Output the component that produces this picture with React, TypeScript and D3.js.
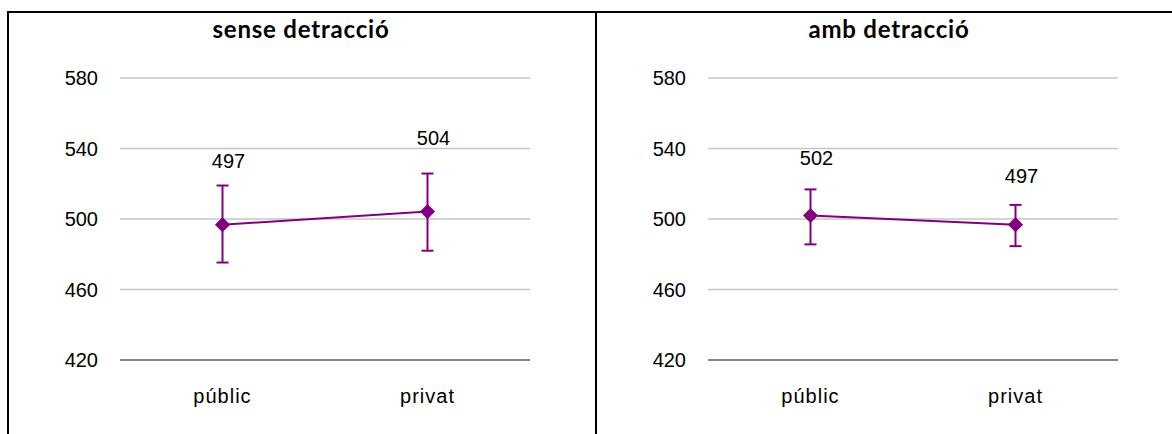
import React from "react";
import * as d3 from "d3";

const categories = ["públic", "privat"];
const panelTitles = ["sense detracció", "amb detracció"];
const meansSense = [496.8, 504.2];
const lowerSense = [475.3, 482.0];
const upperSense = [519.0, 525.8];
const meansAmb = [502.0, 496.8];
const lowerAmb = [485.6, 484.6];
const upperAmb = [516.8, 508.0];
const yTicks = [420, 460, 500, 540, 580];
const labelRise = [[57, 67], [50, 42]]; // pixel rise of data labels above markers (style)

const W = 1172;
const H = 434;
const PANEL_W = 588;
const PURPLE = "#800080";

type PanelProps = {
  x0: number;
  title: string;
  means: number[];
  lower: number[];
  upper: number[];
  rise: number[];
};

function Panel({ x0, title, means, lower, upper, rise }: PanelProps) {
  const plotL = 112;
  const plotR = 522;
  const x = d3.scaleBand<string>().domain(categories).range([plotL, plotR]);
  const y = d3.scaleLinear().domain([420, 580]).range([360, 78]);
  const cx = (c: string) => (x(c) ?? 0) + x.bandwidth() / 2;
  const line = d3
    .line<number>()
    .x((_, i) => cx(categories[i]))
    .y((d) => y(d));
  const marker = d3.symbol().type(d3.symbolSquare).size(115)();
  return (
    <g transform={`translate(${x0},0)`}>
      <text
        x={PANEL_W / 2 - 1}
        y={38}
        textAnchor="middle"
        fontFamily="Lato, 'Open Sans', sans-serif"
        fontWeight={700}
        fontSize={24}
        letterSpacing={0.8}
        fill="#000"
      >
        {title}
      </text>
      {yTicks.map((t) => (
        <g key={t}>
          <line
            x1={plotL}
            x2={plotR}
            y1={y(t)}
            y2={y(t)}
            stroke={t === 420 ? "#868686" : "#c6c6c6"}
            strokeWidth={t === 420 ? 2 : 1.5}
          />
          <text
            x={plotL - 22}
            y={y(t)}
            dy="0.35em"
            textAnchor="end"
            fontFamily="'Liberation Sans', Arial, sans-serif"
            fontSize={20}
            fill="#000"
          >
            {t}
          </text>
        </g>
      ))}
      {categories.map((c) => (
        <text
          key={c}
          x={cx(c)}
          y={403}
          textAnchor="middle"
          fontFamily="'Liberation Sans', Arial, sans-serif"
          fontSize={20}
          letterSpacing={1}
          fill="#000"
        >
          {c}
        </text>
      ))}
      <path d={line(means) ?? ""} fill="none" stroke={PURPLE} strokeWidth={2} />
      {categories.map((c, i) => (
        <g key={c}>
          <line x1={cx(c)} x2={cx(c)} y1={y(lower[i])} y2={y(upper[i])} stroke={PURPLE} strokeWidth={2} />
          <line x1={cx(c) - 6} x2={cx(c) + 6} y1={y(lower[i])} y2={y(lower[i])} stroke={PURPLE} strokeWidth={2} />
          <line x1={cx(c) - 6} x2={cx(c) + 6} y1={y(upper[i])} y2={y(upper[i])} stroke={PURPLE} strokeWidth={2} />
          <path d={marker ?? ""} transform={`translate(${cx(c)},${y(means[i])}) rotate(45)`} fill={PURPLE} />
          <text
            x={cx(c) + 6}
            y={y(means[i]) - rise[i]}
            textAnchor="middle"
            fontFamily="'Liberation Sans', Arial, sans-serif"
            fontSize={20}
            fill="#000"
          >
            {Math.round(means[i])}
          </text>
        </g>
      ))}
    </g>
  );
}

export default function App() {
  return (
    <svg
      width={W}
      height={H}
      style={{ position: "absolute", left: 0, top: 0, background: "#fff" }}
    >
      <rect x={0} y={0} width={W} height={H} fill="#fff" />
      <Panel x0={8} title={panelTitles[0]} means={meansSense} lower={lowerSense} upper={upperSense} rise={labelRise[0]} />
      <Panel x0={596} title={panelTitles[1]} means={meansAmb} lower={lowerAmb} upper={upperAmb} rise={labelRise[1]} />
      <line x1={7} x2={W} y1={12} y2={12} stroke="#000" strokeWidth={2} />
      <line x1={8} x2={8} y1={11} y2={H} stroke="#000" strokeWidth={2} />
      <line x1={596} x2={596} y1={11} y2={H} stroke="#000" strokeWidth={2} />
    </svg>
  );
}
